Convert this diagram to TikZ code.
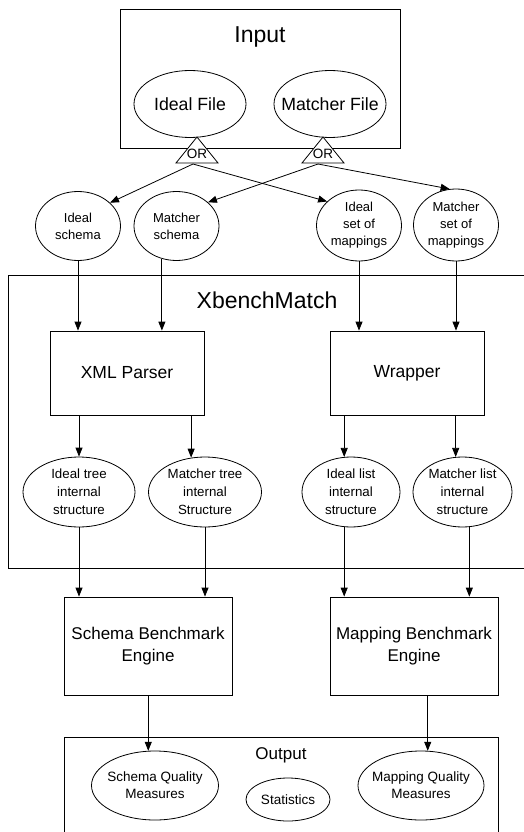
\documentclass[tikz,border=0pt]{standalone}
\usepackage{fontspec}
\setmainfont{Liberation Sans}
\usetikzlibrary{arrows.meta,shapes.geometric}

\begin{document}
\begin{tikzpicture}[x=1pt,y=-1pt,line width=0.8pt,
	every node/.style={align=center,inner sep=0pt},
	bigtitle/.style={font=\fontsize{23}{28}\selectfont},
	bubble/.style={draw,ellipse,inner xsep=-12pt,inner ysep=0pt},
	filebubble/.style={bubble,minimum width=112pt,minimum height=67pt,font=\fontsize{17.7}{22}\selectfont},
	databubble/.style={bubble,minimum width=85pt,minimum height=69pt,font=\fontsize{13}{17}\selectfont},
	structbubble/.style={bubble,minimum height=70pt,font=\fontsize{13.3}{18}\selectfont},
	resultbubble/.style={bubble,font=\fontsize{13.5}{17}\selectfont},
	procbox/.style={draw,rectangle,minimum width=154pt,minimum height=84pt,font=\fontsize{17.5}{22}\selectfont},
	enginebox/.style={draw,rectangle,minimum width=168pt,minimum height=98pt,font=\fontsize{17}{22}\selectfont},
	ortext/.style={font=\fontsize{13.5}{14}\selectfont},
	flow/.style={-{Triangle[length=9pt,width=7pt]}}]
	\useasboundingbox (0,0) rectangle (523,832);

	% input
	\draw (120,9) rectangle (400,148);
	\node[bigtitle] (input) at (260,37) {Input};
	\node[filebubble] (ifile) at (190,104) {Ideal File};
	\node[filebubble] (mfile) at (330,104) {Matcher File};

	% OR gates
	\draw[fill=white] (197,137) -- (176,163) -- (218,163) -- cycle;
	\node[ortext] (orLtext) at (197,154) {OR};
	\coordinate (orL) at (193,164);
	\draw[fill=white] (323,137) -- (302,163) -- (344,163) -- cycle;
	\node[ortext] (orRtext) at (323,154) {OR};
	\coordinate (orR) at (318,164);

	% data read from the files
	\node[databubble] (ischema) at (78,226) {Ideal\\schema};
	\node[databubble] (mschema) at (176.5,226) {Matcher\\schema};
	\node[databubble,minimum height=71pt] (imap) at (359,225.5) {Ideal\\set of\\mappings};
	\node[databubble,minimum height=72pt] (mmap) at (456,225) {Matcher\\set of\\mappings};

	\draw[flow] (orL) -- (ischema.36);
	\draw[flow] (orL) -- (imap.143);
	\draw[flow] (orR) -- (mschema.37);
	\draw[flow] (orR) -- (mmap.100);

	% xbenchmatch
	\draw (8,275) rectangle (540,568);
	\node[bigtitle] (xbench) at (267,300) {XbenchMatch};
	\node[procbox] (xmlp) at (127,373) {XML Parser};
	\node[procbox] (wrap) at (407,373) {Wrapper};

	\draw[flow] (ischema.south) -- (ischema.south |- xmlp.north);
	\draw[flow] (mschema.246) -- (mschema.246 |- xmlp.north);
	\draw[flow] (imap.south) -- (imap.south |- wrap.north);
	\draw[flow] (mmap.south) -- (mmap.south |- wrap.north);

	\node[structbubble,minimum width=112pt] (itree) at (79,492) {Ideal tree\\internal\\structure};
	\node[structbubble,minimum width=113pt] (mtree) at (205,492) {Matcher tree\\internal\\Structure};
	\node[structbubble,minimum width=98pt] (ilist) at (351,492) {Ideal list\\internal\\structure};
	\node[structbubble,minimum width=99pt] (mlist) at (462.5,492) {Matcher list\\internal\\structure};

	\draw[flow] (xmlp.south -| itree.north) -- (itree.north);
	\draw[flow] (xmlp.south -| mtree.112) -- (mtree.112);
	\draw[flow] (wrap.south -| ilist.101) -- (ilist.101);
	\draw[flow] (wrap.south -| mlist.101) -- (mlist.101);

	% benchmark engines
	\node[enginebox] (seng) at (148,646) {Schema Benchmark\\Engine};
	\node[enginebox] (meng) at (414,646) {Mapping Benchmark\\Engine};

	\draw[flow] (itree.south) -- (itree.south |- seng.north);
	\draw[flow] (mtree.south) -- (mtree.south |- seng.north);
	\draw[flow] (ilist.259) -- (ilist.259 |- meng.north);
	\draw[flow] (mlist.281) -- (mlist.281 |- meng.north);

	% output
	\draw (64,737) rectangle (498,850);
	\node[font=\fontsize{17}{20}\selectfont] (output) at (281,755) {Output};
	\node[resultbubble,minimum width=127pt,minimum height=69pt] (sqm) at (155,785.5) {Schema Quality\\Measures};
	\node[resultbubble,minimum width=84pt,minimum height=43pt] (stats) at (288,799.5) {Statistics};
	\node[resultbubble,minimum width=126pt,minimum height=69pt] (mqm) at (421,785.5) {Mapping Quality\\Measures};

	\draw[flow] (seng.south -| sqm.101) -- (sqm.101);
	\draw[flow] (meng.south -| mqm.79) -- (mqm.79);
\end{tikzpicture}
\end{document}
